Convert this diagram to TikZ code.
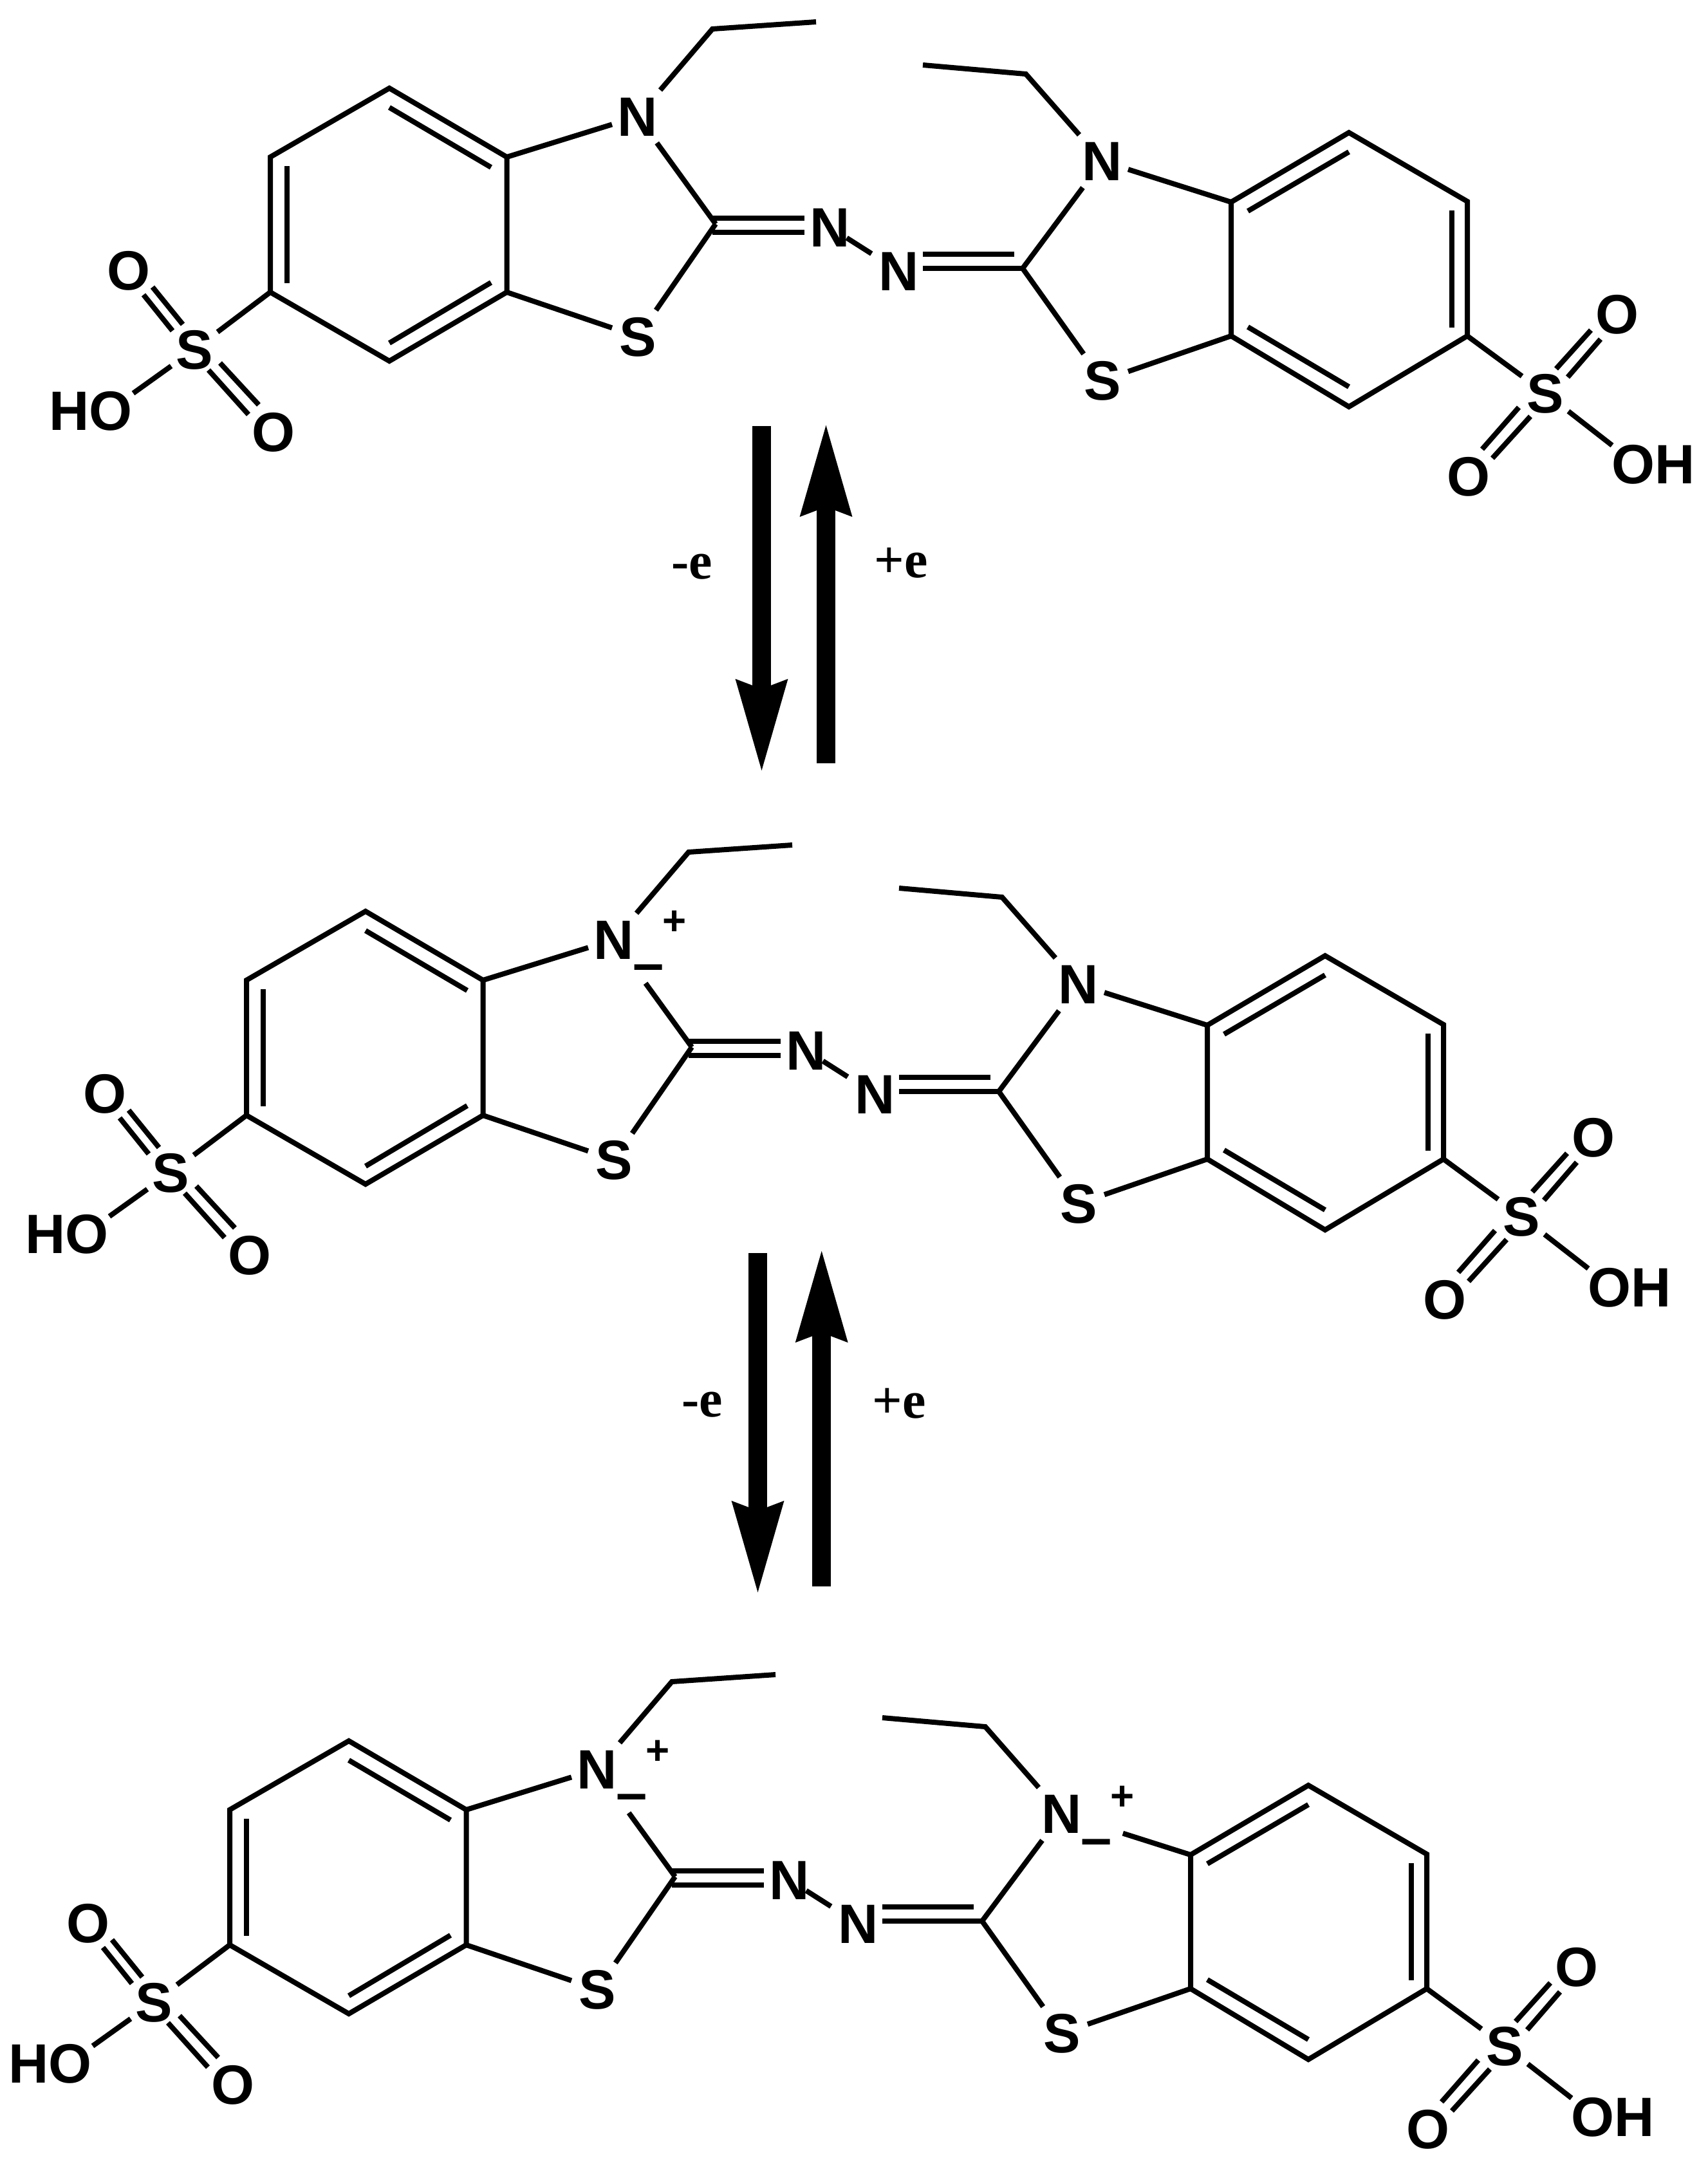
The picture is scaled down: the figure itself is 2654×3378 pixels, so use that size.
\documentclass[tikz,border=0pt]{standalone}
\usepackage{fontspec}
\setmainfont{Liberation Sans}
\newfontfamily\serifb{Liberation Serif}
\usetikzlibrary{arrows.meta}
\tikzset{
  bond/.style={line width=0.08cm,line cap=butt,line join=miter},
  atom/.style={rectangle,inner sep=0pt,outer sep=0pt,minimum width=0.8cm,minimum height=0.82cm,text height=0.6cm,text depth=0pt,align=center,font=\fontsize{24.5}{24.5}\selectfont\bfseries},
  satom/.style={atom,minimum width=0.72cm,minimum height=0.72cm},
  oh/.style={atom,minimum width=1.34cm},
  plus/.style={inner sep=0pt,font=\fontsize{18.1}{18.1}\selectfont\bfseries},
  minus/.style={inner sep=0pt,font=\fontsize{24.7}{24.7}\selectfont\bfseries},
  redox/.style={line width=0.29cm,line cap=butt,-{Stealth[length=1.42cm,width=0.73cm,inset=0.1cm]}},
  elabel/.style={inner sep=0pt,font=\fontsize{23.3}{23.3}\selectfont\bfseries\serifb},
}
% #1 prefix, #2 dx, #3 dy, #4 extra shortening of the bond next to the charge, #5 extras
\newcommand{\molL}[5]{%
\begin{scope}[shift={(#2,#3)},name prefix=#1-]
  \coordinate (a) at (420,244);\coordinate (b) at (605,137);\coordinate (c) at (787.5,244);
  \coordinate (d) at (787.5,454);\coordinate (e) at (605,561);\coordinate (f) at (420,454);
  \coordinate (C2) at (1112,348);\coordinate (CH2) at (1107,45);\coordinate (CH3) at (1268,34);
  \coordinate (OHb) at (207,611);
  \node[atom] (N) at (991,181) {N};
  \node[atom] (S) at (991,523) {S};
  \node[atom] (Na) at (1289.5,353) {N};
  \node[satom] (SO) at (302,543) {S};
  \node[satom] (O1) at (200,420) {O};
  \node[satom] (O2) at (425,671) {O};
  \node[oh] (OH) at (141,638) {HO};
  \draw[bond] (a)--(b)--(c)--(d)--(e)--(f)--cycle;
  \draw[bond] (446,258)--(446,440);
  \draw[bond] (605,167)--(763,260);
  \draw[bond] (763,439)--(605,533);
  \draw[bond] (c)--(N);
  \draw[bond] (d)--(S);
  \draw[bond,shorten >=#4] (C2)--(N);
  \draw[bond] (C2)--(S);
  \draw[bond] (N)--(CH2)--(CH3);
  \draw[bond] (1107,339)--(1250,339);
  \draw[bond] (1107,361)--(1250,361);
  \draw[bond] (f)--(SO);
  \draw[bond] (SO)--(OHb);
  \draw[bond] (237,446)--(284,504);
  \draw[bond] (223,458)--(268,514);
  \draw[bond] (342,564)--(402,629);
  \draw[bond] (324,575)--(386,644);
  #5
\end{scope}}
\newcommand{\molR}[5]{%
\begin{scope}[shift={(#2,#3)},name prefix=#1-]
  \coordinate (a) at (2280,313);\coordinate (b) at (2096,206);\coordinate (c) at (1913,314);
  \coordinate (d) at (1913,522);\coordinate (e) at (2096,632);\coordinate (f) at (2280,522);
  \coordinate (C2) at (1589,417);\coordinate (CH2) at (1594,115);\coordinate (CH3) at (1434,101);
  \coordinate (OHb) at (2505,692);
  \node[atom] (N) at (1713,250.5) {N};
  \node[atom] (S) at (1713,591) {S};
  \node[atom] (Nb) at (1396.5,421) {N};
  \node[satom] (SO) at (2401,611) {S};
  \node[satom] (O1) at (2513,488) {O};
  \node[satom] (O2) at (2282,740) {O};
  \node[oh] (OH) at (2569,721) {OH};
  \draw[bond] (a)--(b)--(c)--(d)--(e)--(f)--cycle;
  \draw[bond] (2256,327)--(2256,509);
  \draw[bond] (2096,236)--(1939,328);
  \draw[bond] (1939,508)--(2096,601);
  \draw[bond,shorten >=#4] (c)--(N);
  \draw[bond] (d)--(S);
  \draw[bond] (C2)--(N);
  \draw[bond] (C2)--(S);
  \draw[bond] (N)--(CH2)--(CH3);
  \draw[bond] (1576,395)--(1434,395);
  \draw[bond] (1589,417)--(1434,417);
  \draw[bond] (f)--(SO);
  \draw[bond] (SO)--(OHb);
  \draw[bond] (2472,513)--(2418,573);
  \draw[bond] (2487,527)--(2436,586);
  \draw[bond] (2360,633)--(2303,698);
  \draw[bond] (2378,647)--(2319,712);
  #5
\end{scope}}
\begin{document}
\begin{tikzpicture}[x=0.01cm,y=-0.01cm]
\useasboundingbox (0,0) rectangle (2654,3378);
% row 1
\molL{A}{0}{0}{0pt}{}
\molR{B}{0}{0}{0pt}{}
\draw[bond,shorten <=0.31cm,shorten >=0.5cm] (A-Na.center)--(B-Nb.center);
% row 2
\molL{C}{-37}{1279}{0.33cm}{\node[plus] (Cp) at (1085,155) {+};\node[minus] (Cm) at (1044.5,234) {–};}
\molR{D}{-37}{1279}{0pt}{}
\draw[bond,shorten <=0.31cm,shorten >=0.5cm] (C-Na.center)--(D-Nb.center);
% row 3
\molL{E}{-63}{2568}{0.33cm}{\node[plus] (Ep) at (1085,155) {+};\node[minus] (Em) at (1044.5,234) {–};}
\molR{F}{-63}{2568}{0.575cm}{\node[plus] (Fp) at (1807.5,225.5) {+};\node[minus] (Fm) at (1767,304) {–};}
\draw[bond,shorten <=0.31cm,shorten >=0.5cm] (E-Na.center)--(F-Nb.center);
% arrows
\coordinate (u1) at (1183.5,662);\coordinate (u2) at (1183.5,1203);
\coordinate (v1) at (1283.5,1186);\coordinate (v2) at (1283.5,655);
\draw[redox] (u1)--(u2);
\draw[redox] (v1)--(v2);
\node[elabel] (m1) at (1075.5,881) {-e};
\node[elabel] (p1) at (1400,875) {+e};
\coordinate (u3) at (1177.5,1947);\coordinate (u4) at (1177.5,2480);
\coordinate (v3) at (1276.7,2464.5);\coordinate (v4) at (1276.7,1938);
\draw[redox] (u3)--(u4);
\draw[redox] (v3)--(v4);
\node[elabel] (m2) at (1091,2183) {-e};
\node[elabel] (p2) at (1397,2181) {+e};
\end{tikzpicture}
\end{document}
